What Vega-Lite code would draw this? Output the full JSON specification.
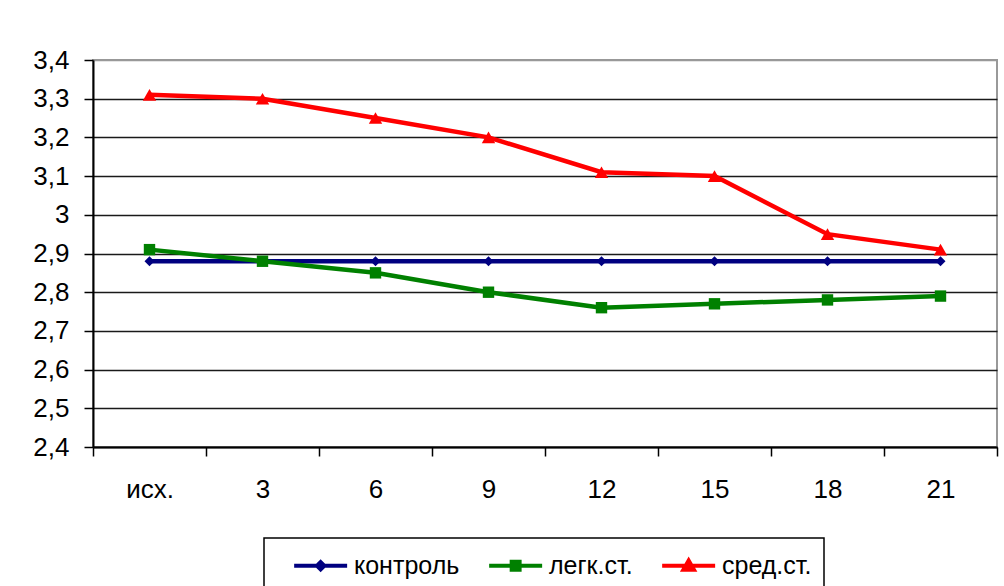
{
  "$schema": "https://vega.github.io/schema/vega-lite/v6.json",
  "autosize": "none",
  "width": 904,
  "height": 387,
  "padding": {"left": 93, "top": 60, "right": 7, "bottom": 139},
  "background": "white",
  "data": {
    "values": [
      {"t": "исх.", "series": "контроль", "v": 2.88},
      {"t": "3", "series": "контроль", "v": 2.88},
      {"t": "6", "series": "контроль", "v": 2.88},
      {"t": "9", "series": "контроль", "v": 2.88},
      {"t": "12", "series": "контроль", "v": 2.88},
      {"t": "15", "series": "контроль", "v": 2.88},
      {"t": "18", "series": "контроль", "v": 2.88},
      {"t": "21", "series": "контроль", "v": 2.88},
      {"t": "исх.", "series": "легк.ст.", "v": 2.91},
      {"t": "3", "series": "легк.ст.", "v": 2.88},
      {"t": "6", "series": "легк.ст.", "v": 2.85},
      {"t": "9", "series": "легк.ст.", "v": 2.80},
      {"t": "12", "series": "легк.ст.", "v": 2.76},
      {"t": "15", "series": "легк.ст.", "v": 2.77},
      {"t": "18", "series": "легк.ст.", "v": 2.78},
      {"t": "21", "series": "легк.ст.", "v": 2.79},
      {"t": "исх.", "series": "сред.ст.", "v": 3.31},
      {"t": "3", "series": "сред.ст.", "v": 3.30},
      {"t": "6", "series": "сред.ст.", "v": 3.25},
      {"t": "9", "series": "сред.ст.", "v": 3.20},
      {"t": "12", "series": "сред.ст.", "v": 3.11},
      {"t": "15", "series": "сред.ст.", "v": 3.10},
      {"t": "18", "series": "сред.ст.", "v": 2.95},
      {"t": "21", "series": "сред.ст.", "v": 2.91}
    ]
  },
  "encoding": {
    "x": {
      "field": "t",
      "type": "nominal",
      "sort": ["исх.", "3", "6", "9", "12", "15", "18", "21"],
      "scale": {"paddingInner": 0, "paddingOuter": 0},
      "axis": {
        "title": null,
        "labelAngle": 0,
        "tickBand": "extent",
        "grid": false,
        "domainColor": "#000000",
        "domainWidth": 2,
        "tickColor": "#000000",
        "tickWidth": 1.5,
        "tickSize": 9,
        "labelPadding": 20,
        "labelFont": "Liberation Sans",
        "labelFontSize": 26,
        "labelColor": "#000000"
      }
    },
    "y": {
      "field": "v",
      "type": "quantitative",
      "scale": {"domain": [2.4, 3.4], "nice": false, "zero": false},
      "axis": {
        "title": null,
        "values": [2.4, 2.5, 2.6, 2.7, 2.8, 2.9, 3.0, 3.1, 3.2, 3.3, 3.4],
        "labelExpr": "replace(format(datum.value, '.1~f'), '.', ',')",
        "grid": true,
        "gridColor": {"condition": {"test": "datum.value > 3.35", "value": "#999999"}, "value": "#1a1a1a"},
        "gridWidth": 1.5,
        "domainColor": "#000000",
        "domainWidth": 2,
        "tickColor": "#000000",
        "tickWidth": 1.5,
        "tickSize": 9,
        "labelPadding": 15,
        "labelFont": "Liberation Sans",
        "labelFontSize": 26,
        "labelColor": "#000000"
      }
    },
    "color": {
      "field": "series",
      "type": "nominal",
      "scale": {
        "domain": ["контроль", "легк.ст.", "сред.ст."],
        "range": ["#000080", "#008000", "#ff0000"]
      },
      "legend": {
        "title": null,
        "orient": "none",
        "direction": "horizontal",
        "legendX": 171,
        "legendY": 478,
        "strokeColor": "#000000",
        "fillColor": "white",
        "padding": 12,
        "columnPadding": 11,
        "labelOffset": 47,
        "labelFont": "Liberation Sans",
        "labelFontSize": 25,
        "labelColor": "#000000",
        "symbolSize": 702,
        "symbolStrokeWidth": 4,
        "encode": {
          "legend": {
            "update": {"strokeWidth": {"value": 1.5}}
          },
          "symbols": {
            "update": {
              "shape": {"signal": "datum.value === 'контроль' ? 'M0.2,0H4.2M2.2,-0.28L2.48,0L2.2,0.28L1.92,0Z' : datum.value === 'легк.ст.' ? 'M0.2,0H4.2M1.9,-0.3H2.5V0.3H1.9Z' : 'M0.2,0H4.2M2.2,-0.4L2.6,0.3H1.8Z'"},
              "size": {"value": 702},
              "fill": {"scale": "color", "field": "value"},
              "stroke": {"scale": "color", "field": "value"},
              "strokeWidth": {"value": 4},
              "opacity": {"value": 1}
            }
          }
        }
      }
    }
  },
  "layer": [
    {
      "mark": {"type": "line", "strokeWidth": 4.5}
    },
    {
      "transform": [{"filter": "datum.series === 'контроль'"}],
      "mark": {"type": "point", "filled": true, "opacity": 1, "shape": "diamond", "size": 100}
    },
    {
      "transform": [{"filter": "datum.series === 'легк.ст.'"}],
      "mark": {"type": "point", "filled": true, "opacity": 1, "shape": "square", "size": 130}
    },
    {
      "transform": [{"filter": "datum.series === 'сред.ст.'"}],
      "mark": {"type": "point", "filled": true, "opacity": 1, "shape": "triangle-up", "size": 180}
    }
  ],
  "config": {
    "view": {"stroke": "#999999", "strokeWidth": 2},
    "font": "Liberation Sans"
  }
}
